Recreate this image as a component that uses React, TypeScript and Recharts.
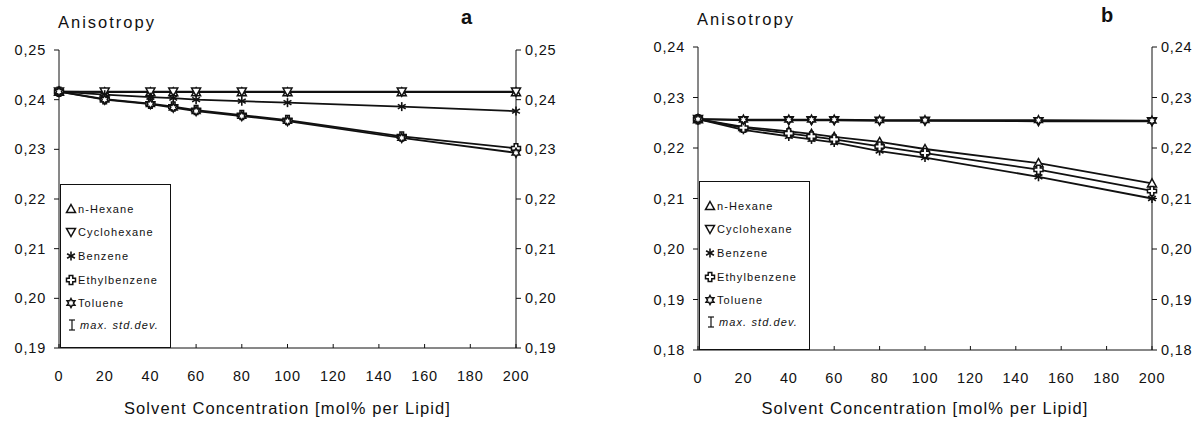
import React from 'react';
import { LineChart, Line, XAxis, YAxis, Legend } from 'recharts';

// solvent concentration, mol% per lipid
const concentrations = [0, 20, 40, 50, 60, 80, 100, 150, 200];
const xTicks = [0, 20, 40, 60, 80, 100, 120, 140, 160, 180, 200];

// panel a
const hexaneA = [0.2416, 0.2415, 0.2415, 0.2415, 0.2415, 0.2415, 0.2415, 0.2415, 0.2415];
const cyclohexaneA = [0.2416, 0.2416, 0.2416, 0.2416, 0.2416, 0.2416, 0.2416, 0.2416, 0.2416];
const benzeneA = [0.2416, 0.2410, 0.2405, 0.2403, 0.2400, 0.2397, 0.2394, 0.2386, 0.2377];
const ethylbenzeneA = [0.2416, 0.2401, 0.2392, 0.2386, 0.2379, 0.2369, 0.2359, 0.2326, 0.2302];
const tolueneA = [0.2416, 0.2400, 0.2391, 0.2384, 0.2377, 0.2367, 0.2357, 0.2323, 0.2293];
const yTicksA = [0.19, 0.2, 0.21, 0.22, 0.23, 0.24, 0.25];

// panel b
const hexaneB = [0.2257, 0.2242, 0.2233, 0.2228, 0.2222, 0.2212, 0.2198, 0.2170, 0.2130];
const cyclohexaneB = [0.2257, 0.2255, 0.2255, 0.2255, 0.2255, 0.2254, 0.2254, 0.2253, 0.2253];
const benzeneB = [0.2257, 0.2236, 0.2223, 0.2217, 0.2211, 0.2194, 0.2181, 0.2143, 0.2100];
const ethylbenzeneB = [0.2257, 0.2240, 0.2229, 0.2223, 0.2217, 0.2203, 0.2190, 0.2157, 0.2115];
const tolueneB = [0.2257, 0.2256, 0.2256, 0.2256, 0.2256, 0.2255, 0.2255, 0.2255, 0.2254];
const yTicksB = [0.18, 0.19, 0.2, 0.21, 0.22, 0.23, 0.24];

const seriesNames = ['n-Hexane', 'Cyclohexane', 'Benzene', 'Ethylbenzene', 'Toluene'];
const seriesKeys = ['hexane', 'cyclohexane', 'benzene', 'ethylbenzene', 'toluene'];
const markerKinds = ['up', 'down', 'asterisk', 'cross', 'star'];

const rowsA = concentrations.map((c, i) => ({
  c,
  hexane: hexaneA[i],
  cyclohexane: cyclohexaneA[i],
  benzene: benzeneA[i],
  ethylbenzene: ethylbenzeneA[i],
  toluene: tolueneA[i],
}));

const rowsB = concentrations.map((c, i) => ({
  c,
  hexane: hexaneB[i],
  cyclohexane: cyclohexaneB[i],
  benzene: benzeneB[i],
  ethylbenzene: ethylbenzeneB[i],
  toluene: tolueneB[i],
}));

const FONT = "'Liberation Sans', Arial, sans-serif";
const fmt = (v: number) => v.toFixed(2).replace('.', ',');

const Marker = ({ cx, cy, kind, s = 4.5 }: { cx: number; cy: number; kind: string; s?: number }) => {
  const st = { stroke: '#111', strokeWidth: 1.5, fill: '#fff' };
  if (kind === 'up') {
    return <polygon points={`${cx},${cy - s} ${cx + s},${cy + s * 0.8} ${cx - s},${cy + s * 0.8}`} {...st} />;
  }
  if (kind === 'down') {
    return <polygon points={`${cx},${cy + s} ${cx + s},${cy - s * 0.8} ${cx - s},${cy - s * 0.8}`} {...st} />;
  }
  if (kind === 'asterisk') {
    const d = s * 0.87;
    const h = s * 0.5;
    return (
      <g stroke="#111" strokeWidth={1.6}>
        <line x1={cx} y1={cy - s} x2={cx} y2={cy + s} />
        <line x1={cx - d} y1={cy - h} x2={cx + d} y2={cy + h} />
        <line x1={cx - d} y1={cy + h} x2={cx + d} y2={cy - h} />
      </g>
    );
  }
  if (kind === 'cross') {
    const a = s * 0.4;
    const pts = [
      [-a, -s], [a, -s], [a, -a], [s, -a], [s, a], [a, a],
      [a, s], [-a, s], [-a, a], [-s, a], [-s, -a], [-a, -a],
    ].map(([x, y]) => `${cx + x},${cy + y}`).join(' ');
    return <polygon points={pts} {...st} />;
  }
  // six-pointed star
  const pts: string[] = [];
  for (let k = 0; k < 12; k++) {
    const r = k % 2 === 0 ? s : s * 0.55;
    const ang = (Math.PI / 6) * k - Math.PI / 2;
    pts.push(`${cx + r * Math.cos(ang)},${cy + r * Math.sin(ang)}`);
  }
  return <polygon points={pts.join(' ')} {...st} />;
};

const LegendBox = ({ width, height }: { width: number; height: number }) => (
  <div
    style={{
      width,
      height,
      boxSizing: 'border-box',
      border: '1px solid #111',
      background: '#fff',
      fontFamily: FONT,
      fontSize: 11,
      letterSpacing: 1.1,
      color: '#111',
      paddingTop: 12,
    }}
  >
    {seriesNames.map((name, i) => (
      <div key={name} style={{ display: 'flex', alignItems: 'center', height: 23.6, paddingLeft: 4 }}>
        <svg width={12} height={12} style={{ marginRight: 1 }}>
          <Marker cx={6} cy={6} kind={markerKinds[i]} s={4.5} />
        </svg>
        <span>{name}</span>
      </div>
    ))}
    <div style={{ display: 'flex', alignItems: 'center', height: 20, paddingLeft: 6 }}>
      <svg width={10} height={12} style={{ marginRight: 3 }}>
        <g stroke="#111" strokeWidth={1.2}>
          <line x1={5} y1={1} x2={5} y2={11} />
          <line x1={2} y1={1} x2={8} y2={1} />
          <line x1={2} y1={11} x2={8} y2={11} />
        </g>
      </svg>
      <span style={{ fontStyle: 'italic' }}>max. std.dev.</span>
    </div>
  </div>
);

type PanelProps = {
  rows: typeof rowsA;
  yTicks: number[];
  left: number;
  width: number;
  top: number;
  plotLeft: number;
  plotRight: number;
  plotBottom: number;
  legendTop: number;
  letter: string;
  letterX: number;
  letterY: number;
  titleX: number;
  titleY: number;
};

const Panel = (p: PanelProps) => {
  const axisH = 422 - p.plotBottom;
  const tickStyle = { fill: '#111', fontSize: 14.5, fontFamily: FONT, letterSpacing: 0.8 };
  const dom = [p.yTicks[0], p.yTicks[p.yTicks.length - 1]];
  return (
    <div style={{ position: 'absolute', left: p.left, top: 0, width: p.width, height: 422 }}>
      <LineChart
        width={p.width}
        height={422}
        data={p.rows}
        margin={{ top: p.top, right: 0, bottom: 0, left: 0 }}
      >
        <XAxis
          dataKey="c"
          type="number"
          domain={[0, 200]}
          ticks={xTicks}
          height={axisH}
          stroke="#111"
          tickLine={{ stroke: '#111', strokeWidth: 1 }}
          tickSize={-4}
          tickMargin={27}
          tick={tickStyle}
          label={{
            value: 'Solvent Concentration [mol% per Lipid]',
            position: 'insideBottom',
            offset: 8,
            fill: '#111',
            fontSize: 16.5,
            fontFamily: FONT,
            letterSpacing: 1.1,
          }}
        />
        <YAxis
          yAxisId="l"
          domain={dom}
          ticks={p.yTicks}
          width={p.plotLeft}
          stroke="#111"
          tickSize={5}
          tickMargin={8}
          tick={tickStyle}
          tickFormatter={fmt}
        />
        <YAxis
          yAxisId="r"
          orientation="right"
          domain={dom}
          ticks={p.yTicks}
          width={p.width - p.plotRight}
          stroke="#111"
          tickSize={5}
          tickMargin={4}
          tick={tickStyle}
          tickFormatter={fmt}
        />
        <Legend
          layout="vertical"
          align="center"
          verticalAlign="middle"
          wrapperStyle={{ left: p.plotLeft + 1, top: p.legendTop, width: 'auto' }}
          content={() => <LegendBox width={111} height={p.plotBottom - p.legendTop} />}
        />
        {seriesKeys.map((key, i) => (
          <Line
            key={key}
            yAxisId={i % 2 === 0 ? 'l' : 'r'}
            type="linear"
            dataKey={key}
            name={seriesNames[i]}
            stroke="#111"
            strokeWidth={1.8}
            isAnimationActive={false}
            dot={(d: any) => <Marker key={`${key}-${d.index}`} cx={d.cx} cy={d.cy} kind={markerKinds[i]} />}
            activeDot={false}
          />
        ))}
      </LineChart>
      <div
        style={{
          position: 'absolute',
          left: p.titleX,
          top: p.titleY,
          fontFamily: FONT,
          fontSize: 16.5,
          letterSpacing: 2,
          color: '#111',
          whiteSpace: 'nowrap',
        }}
      >
        Anisotropy
      </div>
      <div
        style={{
          position: 'absolute',
          left: p.letterX,
          top: p.letterY,
          fontFamily: FONT,
          fontSize: 20,
          fontWeight: 'bold',
          color: '#111',
        }}
      >
        {p.letter}
      </div>
    </div>
  );
};

export default function App() {
  return (
    <div style={{ position: 'absolute', left: 0, top: 0, width: 1198, height: 422, background: '#fff' }}>
      <Panel
        rows={rowsA}
        yTicks={yTicksA}
        left={0}
        width={600}
        top={50}
        plotLeft={59}
        plotRight={516}
        plotBottom={348}
        legendTop={184}
        letter="a"
        letterX={461}
        letterY={6}
        titleX={58}
        titleY={13}
      />
      <Panel
        rows={rowsB}
        yTicks={yTicksB}
        left={600}
        width={598}
        top={47}
        plotLeft={98}
        plotRight={552}
        plotBottom={350}
        legendTop={181}
        letter="b"
        letterX={501}
        letterY={4}
        titleX={97}
        titleY={10}
      />
    </div>
  );
}
